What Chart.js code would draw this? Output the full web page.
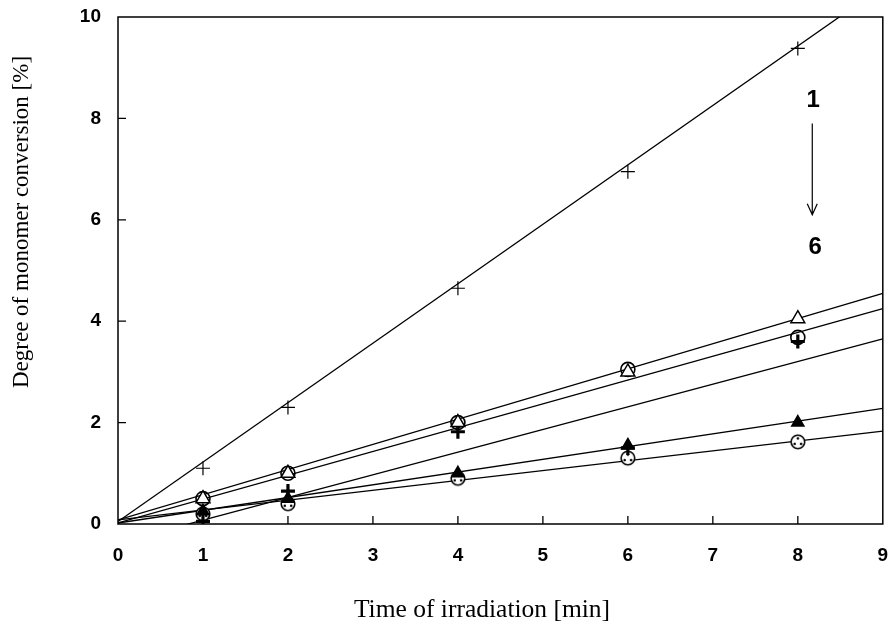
<!DOCTYPE html>
<html>
<head>
<meta charset="utf-8">
<script src="https://cdn.jsdelivr.net/npm/chart.js@4.4.0/dist/chart.umd.min.js"></script>
<style>
  html, body { margin: 0; padding: 0; background: #fff; }
  #wrap { width: 893px; height: 641px; }
</style>
</head>
<body>
<div id="wrap"><canvas id="chart" width="893" height="641"></canvas></div>
<script>
// measured times [min]
const times = [1, 2, 4, 6, 8];
// degree of monomer conversion [%] per sample
const conv1 = [1.1, 2.3, 4.65, 6.95, 9.38];
const conv2 = [0.5, 1.0, 2.0, 3.0, 4.05];
const conv3 = [0.5, 1.0, 2.0, 3.05, 3.68];
const conv4 = [0.05, 0.65, 1.82, 1.5, 3.6];
const conv5 = [0.25, 0.5, 1.0, 1.55, 2.0];
const conv6 = [0.2, 0.4, 0.9, 1.3, 1.62];
// fitted straight lines, y at x = 0 and x = 9
const fitX = [0, 9];
const fit1 = [0.05, 10.6];
const fit2 = [0.08, 4.55];
const fit3 = [0.02, 4.25];
const fit4 = [-0.37, 3.65];
const fit5 = [0.02, 2.28];
const fit6 = [0.08, 1.83];
const xTicks = [0, 1, 2, 3, 4, 5, 6, 7, 8, 9];
const yTicks = [0, 2, 4, 6, 8, 10];

const toPts = (xs, ys) => xs.map((x, i) => ({x: x, y: ys[i]}));

// circle with three dots marker
function dotCircle() {
    const c = document.createElement('canvas');
    c.width = 18; c.height = 18;
    const g = c.getContext('2d');
    g.fillStyle = '#fff';
    g.strokeStyle = '#000';
    g.lineWidth = 1.6;
    g.beginPath(); g.arc(9, 9, 6.8, 0, Math.PI * 2); g.fill(); g.stroke();
    g.fillStyle = '#000';
    [[9, 5.5], [5.8, 11], [12.2, 11]].forEach(p => {g.beginPath(); g.arc(p[0], p[1], 1.3, 0, Math.PI * 2); g.fill();});
    return c;
}

function pointSet(data, style, radius, width, fill) {
    return {type: 'scatter', data: toPts(times, data), pointStyle: style, pointRadius: radius,
        pointBorderWidth: width, pointBorderColor: '#000', pointBackgroundColor: fill, showLine: false, order: 0};
}
function fitSet(data) {
    return {type: 'line', data: toPts(fitX, data), borderColor: '#000', borderWidth: 1.3,
        pointRadius: 0, fill: false, tension: 0, order: 1};
}

const frame = {
    id: 'frame',
    afterDraw(chart) {
        const {ctx, chartArea: a, scales: {x, y}} = chart;
        ctx.save();
        ctx.strokeStyle = '#000';
        ctx.lineWidth = 1.5;
        ctx.strokeRect(a.left, a.top, a.right - a.left, a.bottom - a.top);
        ctx.lineWidth = 1.3;
        ctx.beginPath();
        xTicks.slice(1, -1).forEach(v => {const px = x.getPixelForValue(v); ctx.moveTo(px, a.bottom); ctx.lineTo(px, a.bottom - 8);});
        yTicks.slice(1, -1).forEach(v => {const py = y.getPixelForValue(v); ctx.moveTo(a.left, py); ctx.lineTo(a.left + 8, py);});
        ctx.stroke();

        // 1 -> 6 annotation
        ctx.fillStyle = '#000';
        ctx.font = 'bold 24px "Liberation Sans", Arial, sans-serif';
        ctx.textAlign = 'center';
        ctx.textBaseline = 'middle';
        const ax = x.getPixelForValue(8.17);
        ctx.fillText('1', ax + 1, y.getPixelForValue(8.36));
        ctx.fillText('6', ax + 3, y.getPixelForValue(5.46));
        const y0 = y.getPixelForValue(7.9), y1 = y.getPixelForValue(6.1);
        ctx.lineWidth = 1.2;
        ctx.beginPath();
        ctx.moveTo(ax, y0); ctx.lineTo(ax, y1);
        ctx.moveTo(ax - 5, y1 - 11); ctx.lineTo(ax, y1); ctx.lineTo(ax + 5, y1 - 11);
        ctx.stroke();

        // axis titles
        ctx.font = '25.5px "Liberation Serif", "Times New Roman", serif';
        ctx.fillText('Time of irradiation [min]', 482, 610);
        ctx.font = '23px "Liberation Serif", "Times New Roman", serif';
        ctx.translate(22, 222);
        ctx.rotate(-Math.PI / 2);
        ctx.fillText('Degree of monomer conversion [%]', 0, 0);
        ctx.restore();
    }
};

const tickFont = {family: '"Liberation Sans", Arial, sans-serif', size: 19, weight: 'bold'};

new Chart(document.getElementById('chart'), {
    data: {datasets: [
        pointSet(conv1, 'cross', 7, 1.2, '#000'),
        pointSet(conv2, 'triangle', 8, 1.5, '#fff'),
        pointSet(conv3, 'circle', 7, 1.6, 'rgba(255,255,255,0)'),
        pointSet(conv4, 'cross', 7, 3.2, '#000'),
        pointSet(conv5, 'triangle', 7, 1.5, '#000'),
        pointSet(conv6, dotCircle(), 9, 1, '#fff'),
        fitSet(fit1), fitSet(fit2), fitSet(fit3), fitSet(fit4), fitSet(fit5), fitSet(fit6)
    ]},
    options: {
        responsive: false,
        animation: false,
        layout: {padding: {top: 17, right: 9, left: 0, bottom: 0}},
        plugins: {legend: {display: false}, tooltip: {enabled: false}},
        scales: {
            x: {type: 'linear', min: 0, max: 9,
                afterFit: s => {s.height = 117; s.paddingLeft = 0; s.paddingRight = 0;},
                afterBuildTicks: s => {s.ticks = xTicks.map(v => ({value: v}));},
                grid: {display: false, drawTicks: false}, border: {display: false},
                ticks: {padding: 20, color: '#000', font: tickFont}},
            y: {type: 'linear', min: 0, max: 10,
                afterFit: s => {s.width = 118; s.paddingTop = 0; s.paddingBottom = 0;},
                afterBuildTicks: s => {s.ticks = yTicks.map(v => ({value: v}));},
                grid: {display: false, drawTicks: false}, border: {display: false},
                ticks: {padding: 17, color: '#000', font: tickFont}}
        }
    },
    plugins: [frame]
});
</script>
</body>
</html>
